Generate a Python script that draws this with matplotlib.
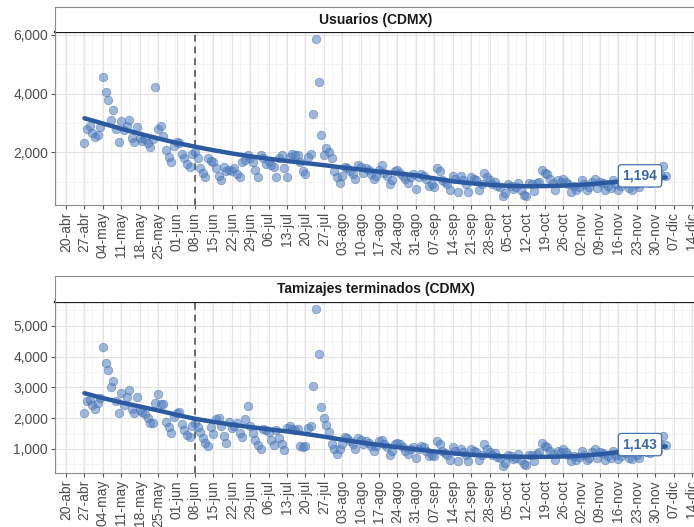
import numpy as np
import pandas as pd
import matplotlib
matplotlib.use("Agg")
import matplotlib.pyplot as plt
import matplotlib.dates as mdates
from matplotlib.ticker import FuncFormatter, MultipleLocator

plt.rcParams['font.family'] = ['Liberation Sans', 'DejaVu Sans']

# datos diarios, 27-abr a 04-dic (semanas de lunes a domingo)
fechas = pd.date_range('2020-04-27', '2020-12-04', freq='D')

usuarios = [
    2330, 2800, 2900, 2650, 2520, 2600, 2850,
    4580, 4050, 3780, 3100, 3450, 2800, 2350,
    3050, 2750, 2900, 3100, 2480, 2350, 2850,
    2500, 2400, 2450, 2300, 2170, 2450, 4220,
    2800, 2900, 2560, 2080, 1850, 1650, 2200,
    2350, 2300, 1950, 1800, 1600, 1500, 1950,
    2000, 1800, 1450, 1300, 1150, 1800, 1700,
    1650, 1450, 1200, 1050, 1500, 1350, 1400,
    1350, 1450, 1250, 1150, 1650, 1750, 1900,
    1800, 1650, 1400, 1150, 1900, 1800, 1600,
    1700, 1550, 1500, 1150, 1800, 1900, 1450,
    1150, 1850, 1950, 1900, 1900, 1650, 1350,
    1250, 1850, 1950, 3300, 5850, 4400, 2600,
    1900, 2150, 2000, 1800, 1350, 1150, 950,
    1200, 1500, 1450, 1350, 1250, 1100, 1550,
    1500, 1300, 1450, 1400, 1250, 1100, 1200,
    1400, 1550, 1300, 1200, 900, 1050, 1350,
    1400, 1300, 1200, 1100, 950, 1150, 1250,
    750, 1150, 1250, 1200, 1100, 850, 900,
    830, 1450, 1350, 1050, 1000, 900, 720,
    1200, 1100, 660, 1200, 1050, 900, 660,
    1150, 1100, 1050, 720, 900, 1300, 1150,
    1050, 900, 1000, 850, 800, 490, 600,
    900, 850, 750, 800, 950, 700, 550,
    490, 940, 900, 690, 960, 1000, 1400,
    1300, 1250, 1100, 950, 720, 1050, 1000,
    1100, 1000, 900, 660, 850, 720, 820,
    1050, 900, 720, 800, 1000, 1100, 770,
    1000, 950, 720, 850, 780, 1050, 900,
    720, 850, 1000, 950, 780, 720, 1100,
    900, 800, 1050, 1150, 1000, 950, 1100,
    1200, 1050, 1250, 1520, 1194,
]

tamizajes = [
    2180, 2570, 2600, 2430, 2300, 2500, 2650,
    4300, 3800, 3560, 3000, 3220, 2550, 2160,
    2830, 2430, 2700, 2920, 2300, 2180, 2680,
    2250, 2200, 2150, 2000, 1830, 1850, 2480,
    2800, 2460, 2450, 1890, 1720, 1510, 2050,
    2160, 2200, 1800, 1620, 1450, 1400, 1750,
    1830, 1700, 1550, 1350, 1200, 1100, 1700,
    1490, 1960, 1990, 1750, 1420, 1180, 1890,
    1680, 1750, 1850, 1510, 1400, 1960, 2400,
    1750, 1510, 1290, 1130, 990, 1650, 1600,
    1550, 1300, 1130, 1600, 1350, 1150, 970,
    1670, 1730, 1650, 1600, 1650, 1100, 1050,
    1100, 1680, 1730, 3050, 5550, 4080, 2370,
    1990, 1790, 1550, 1150, 990, 830, 1000,
    1150, 1400, 1350, 1250, 1150, 1000, 1350,
    1300, 1150, 1250, 1200, 1100, 950, 1100,
    1250, 1300, 1150, 1050, 820, 950, 1150,
    1200, 1150, 1050, 950, 850, 1000, 1050,
    700, 1000, 1100, 1050, 950, 780, 800,
    760, 1250, 1150, 950, 880, 800, 650,
    1050, 950, 620, 1000, 900, 800, 620,
    1000, 950, 900, 650, 800, 1150, 1000,
    900, 800, 880, 750, 700, 460, 560,
    800, 760, 680, 700, 850, 640, 520,
    480, 820, 800, 620, 850, 900, 1180,
    1100, 1050, 950, 850, 650, 950, 900,
    1000, 900, 800, 600, 760, 650, 740,
    950, 820, 650, 720, 900, 1000, 700,
    900, 860, 650, 760, 700, 950, 820,
    660, 780, 900, 860, 700, 660, 1000,
    820, 720, 950, 1050, 900, 860, 1000,
    1100, 950, 1150, 1420, 1143,
]

# curva suavizada (cada lunes y ultimo dia)
fechas_tend = list(pd.date_range('2020-04-27', '2020-11-30', freq='7D')) + [pd.Timestamp('2020-12-04')]
tend_usuarios = [3160, 2980, 2800, 2630, 2470, 2320, 2190, 2070, 1960, 1860,
                 1780, 1700, 1630, 1560, 1480, 1410, 1340, 1280, 1210, 1110,
                 1010, 940, 890, 855, 840, 845, 860, 890, 940, 1000,
                 1060, 1110, 1140]
tend_tamizajes = [2810, 2650, 2510, 2380, 2250, 2110, 1980, 1880, 1790, 1710,
                  1640, 1570, 1490, 1400, 1300, 1210, 1130, 1060, 990, 920,
                  860, 810, 780, 755, 745, 745, 755, 780, 830, 900,
                  970, 1040, 1080]

titulos = ['Usuarios (CDMX)', 'Tamizajes terminados (CDMX)']
meses = ['ene', 'feb', 'mar', 'abr', 'may', 'jun', 'jul', 'ago', 'sep', 'oct', 'nov', 'dic']
fecha_corte = pd.Timestamp('2020-06-08')
ticks_x = pd.date_range('2020-04-20', '2020-12-14', freq='7D')

W, H = 694, 527
fig = plt.figure(figsize=(W / 100, H / 100), dpi=100)


def rect(l, t, r, b):
    return [l / W, 1 - b / H, (r - l) / W, (b - t) / H]


paneles = [
    dict(ax=(55, 32.3, 696, 205), strip=(55, 7.3, 696, 32.3), ylim=(200, 6092), major=2000, minor=1000),
    dict(ax=(55, 301.7, 696, 473), strip=(55, 276, 696, 301.7), ylim=(220, 5780), major=1000, minor=500),
]
series = [(usuarios, tend_usuarios), (tamizajes, tend_tamizajes)]

x0 = mdates.date2num(pd.Timestamp('2020-04-20'))
punto = '#5080C0'
linea = '#2C5AA0'
gris_txt = '#4D4D4D'

for p, (vals, tend), titulo in zip(paneles, series, titulos):
    ax = fig.add_axes(rect(*p['ax']))
    ax.set_facecolor('white')

    ax.scatter(fechas, vals, s=38, color=punto, alpha=0.55, edgecolors='#3A64A8', linewidths=0.5, zorder=3)
    ax.plot(fechas_tend, tend, color=linea, lw=3.2, solid_capstyle='round', zorder=4)
    ax.axvline(fecha_corte, color='#555555', lw=1.2, ls=(0, (4, 3)), zorder=2)

    ax.annotate(f'{vals[-1]:,}', xy=(fechas[-1], vals[-1]), xytext=(-6, 0),
                textcoords='offset points', ha='right', va='center',
                fontsize=10, fontweight='bold', color='#3A68A8', zorder=6,
                bbox=dict(boxstyle='round,pad=0.3,rounding_size=0.2', fc='white', ec='#4472B8', lw=0.9))

    ax.set_xlim(x0 - 4.2, x0 + 239.5)
    ax.set_ylim(*p['ylim'])
    ax.set_xticks(ticks_x)
    ax.set_xticklabels([f'{d.day:02d}-{meses[d.month - 1]}' for d in ticks_x], rotation=90)
    ax.xaxis.set_minor_locator(MultipleLocator(3.5))
    ax.yaxis.set_major_locator(MultipleLocator(p['major']))
    ax.yaxis.set_minor_locator(MultipleLocator(p['minor']))
    ax.yaxis.set_major_formatter(FuncFormatter(lambda v, _: f'{int(v):,}'))

    ax.grid(which='major', color='#E3E3E3', lw=0.8, zorder=0)
    ax.grid(which='minor', color='#F0F0F0', lw=0.5, zorder=0)
    ax.set_axisbelow(True)

    ax.tick_params(axis='both', which='major', length=3, width=0.8, color='#555555',
                   labelsize=10, labelcolor=gris_txt, pad=2)
    ax.tick_params(which='minor', length=0)

    ax.spines['right'].set_visible(False)
    for lado in ['left', 'bottom']:
        ax.spines[lado].set_color('#8C8C8C')
        ax.spines[lado].set_linewidth(0.8)
    ax.spines['top'].set_color('#1A1A1A')
    ax.spines['top'].set_linewidth(1.6)

    st = fig.add_axes(rect(*p['strip']))
    st.set_facecolor('white')
    st.set_xticks([])
    st.set_yticks([])
    st.spines['bottom'].set_visible(False)
    for lado in ['top', 'left', 'right']:
        st.spines[lado].set_color('#8C8C8C')
        st.spines[lado].set_linewidth(0.8)
    st.text(0.5, 0.5, titulo, transform=st.transAxes, ha='center', va='center',
            fontsize=10, fontweight='bold', color='#1A1A1A')

fig.savefig('out.png', dpi=100)
